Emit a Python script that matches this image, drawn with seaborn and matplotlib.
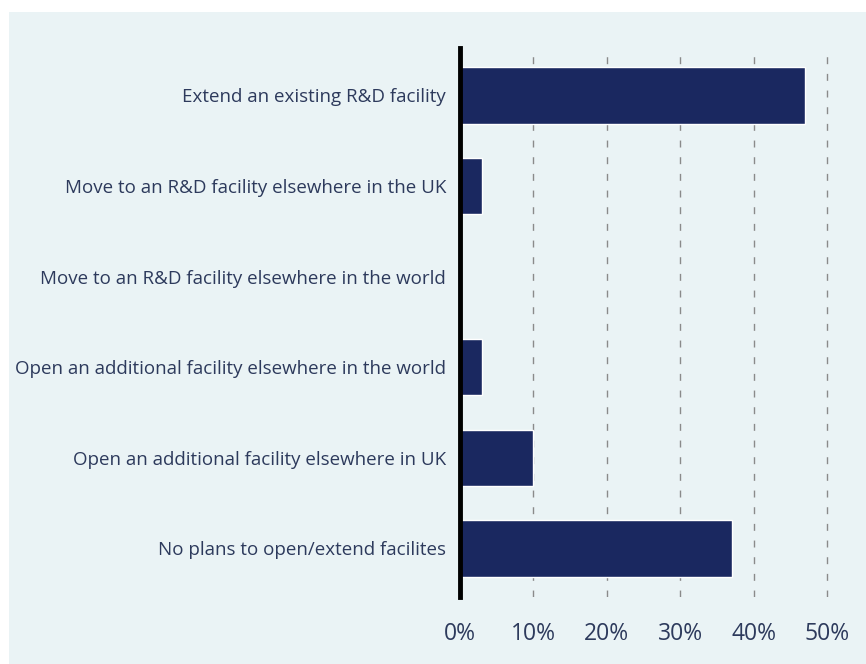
import matplotlib
matplotlib.use("Agg")
import matplotlib.pyplot as plt
import seaborn as sns
import pandas as pd
from matplotlib.patches import Rectangle

categories = [
    "Extend an existing R&D facility",
    "Move to an R&D facility elsewhere in the UK",
    "Move to an R&D facility elsewhere in the world",
    "Open an additional facility elsewhere in the world",
    "Open an additional facility elsewhere in UK",
    "No plans to open/extend facilites",
]
values = [47, 3, 0, 3, 10, 37]
xticks = [0, 10, 20, 30, 40, 50]
xtick_labels = ["0%", "10%", "20%", "30%", "40%", "50%"]

df = pd.DataFrame({"category": categories, "value": values})

sns.set_theme(style="white")
plt.rcParams["font.family"] = ["Open Sans", "DejaVu Sans"]

W, H = 866, 664
fig = plt.figure(figsize=(W / 100, H / 100), dpi=100)
fig.patch.set_facecolor("white")
bg = "#eaf3f5"
fig.add_artist(Rectangle((9 / W, 0), 1 - 9 / W, 1 - 12 / H, transform=fig.transFigure,
                         facecolor=bg, edgecolor="none", zorder=0))

ax = fig.add_axes([460 / W, 1 - 597 / H, (842 - 460) / W, (597 - 48) / H])
ax.set_facecolor(bg)
ax.patch.set_alpha(0)

sns.barplot(data=df, x="value", y="category", orient="h", color="#1a2860",
            width=0.62, saturation=1, ax=ax, zorder=3)

ax.set_xlim(0, 52)
ax.set_ylim(5.536, -0.524)
ax.set_xticks(xticks)
ax.set_xticklabels(xtick_labels)
ax.set_xlabel("")
ax.set_ylabel("")

for x in xticks[1:]:
    ax.axvline(x, ymin=0, ymax=0.985, color="#8a8a8a", linestyle=(0, (5, 7)), linewidth=1.0, zorder=1)

for s in ["top", "right", "bottom"]:
    ax.spines[s].set_visible(False)
ax.spines["left"].set_color("black")
ax.spines["left"].set_linewidth(3.5)
ax.spines["left"].set_zorder(5)

txt = "#2d3a5c"
ax.tick_params(axis="x", length=0, pad=18, labelsize=16.5, labelcolor=txt)
ax.tick_params(axis="y", length=0, pad=10, labelsize=13.5, labelcolor=txt)

fig.savefig("out.png", dpi=100, facecolor=fig.get_facecolor())
